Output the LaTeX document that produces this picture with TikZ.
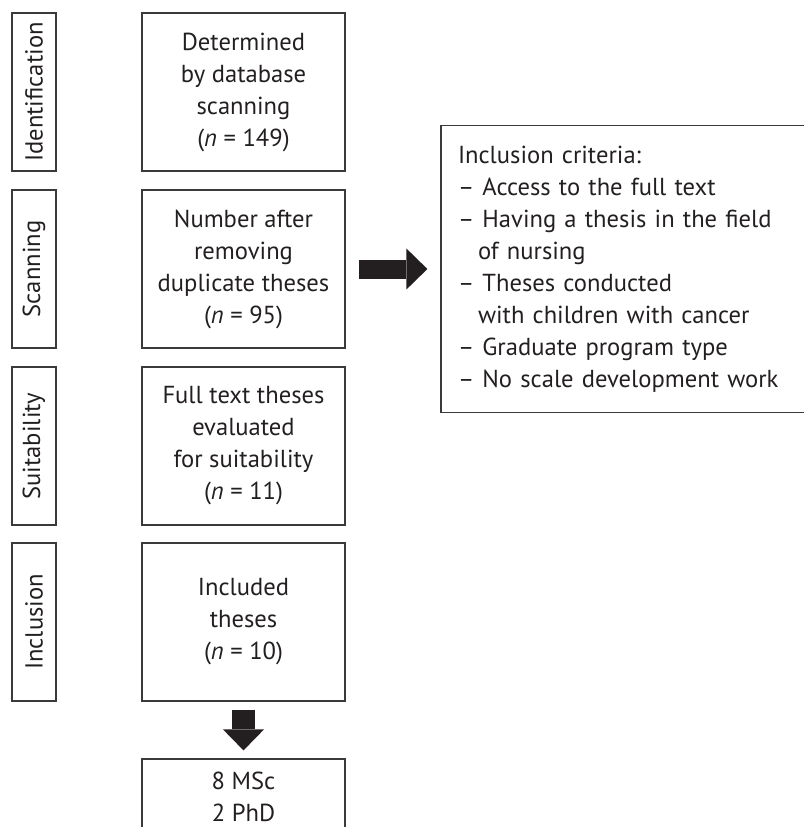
\documentclass[tikz,border=0pt]{standalone}
\usepackage{fontspec}
\setmainfont{PT Sans}
\usetikzlibrary{arrows.meta}
\definecolor{ink}{HTML}{231F20}
\definecolor{frame}{HTML}{3A3A3A}
\begin{document}
\begin{tikzpicture}[x=1pt,y=-1pt,
  txt/.style={text=ink,font=\fontsize{24.6}{32}\selectfont},
  box/.style={txt,draw=frame,line width=1.2pt,inner sep=0pt,minimum width=203pt,minimum height=158pt,align=center},
  lab/.style={txt,draw=frame,line width=1.2pt,inner sep=0pt,rotate=90,minimum width=158pt,minimum height=44pt},
  crit/.style={txt,draw=frame,line width=1.2pt,inner xsep=17pt,inner ysep=0pt,text width=336pt,minimum height=287pt,align=left},
  rarrow/.style={draw=ink,line width=19pt,-{Triangle[length=21pt,width=41pt,line width=0pt]},shorten <=13pt,shorten >=13pt},
  darrow/.style={draw=ink,line width=23pt,-{Triangle[length=21pt,width=41pt,line width=0pt]},shorten <=8pt,shorten >=8pt}]
\useasboundingbox (0,0) rectangle (803,827);
% stage labels
\node[lab] (l1) at (34,92) {Identification};
\node[lab] (l2) at (34,269) {Scanning};
\node[lab] (l3) at (34,446) {Suitability};
\node[lab] (l4) at (34,622) {Inclusion};
% main boxes
\node[box] (b1) at (243.5,92) {Determined\\by database\\scanning\\(\textit{n} = 149)};
\node[box] (b2) at (243.5,269) {Number after\\removing\\duplicate theses\\(\textit{n} = 95)};
\node[box] (b3) at (243.5,446) {Full text theses\\evaluated\\for suitability\\(\textit{n} = 11)};
\node[box] (b4) at (243.5,622) {Included\\theses\\(\textit{n} = 10)};
\node[box,minimum height=76pt] (b5) at (243.5,797) {8 MSc\\2 PhD};
% criteria
\node[crit] (c) at (626,269) {Inclusion criteria:\\
– Access to the full text\\
– Having a thesis in the field\\
\hspace*{20pt}of nursing\\
– Theses conducted\\
\hspace*{20pt}with children with cancer\\
– Graduate program type\\
– No scale development work};
% arrows
\draw[rarrow] (b2.east) -- (c.west);
\draw[darrow] (b4.south) -- (b5.north);
\end{tikzpicture}
\end{document}
